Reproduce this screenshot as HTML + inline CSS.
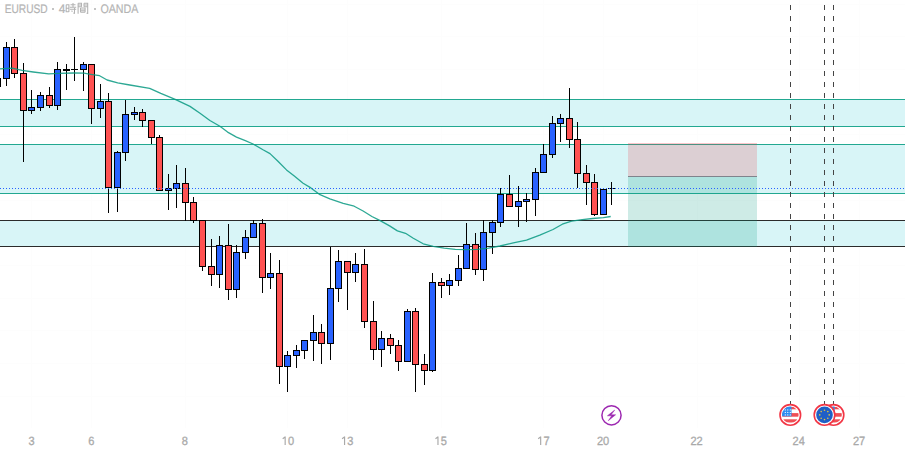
<!DOCTYPE html>
<html><head><meta charset="utf-8"><style>
html,body{margin:0;padding:0;background:#fff;width:905px;height:452px;overflow:hidden;}
body{position:relative;font-family:"Liberation Sans",sans-serif;}
</style></head><body>
<svg width="905" height="452" viewBox="0 0 905 452" shape-rendering="crispEdges" style="position:absolute;left:0;top:0"><rect x="31" y="0" width="1" height="428" fill="#fdfdfd"/>
<rect x="91" y="0" width="1" height="428" fill="#fdfdfd"/>
<rect x="185" y="0" width="1" height="428" fill="#fdfdfd"/>
<rect x="287" y="0" width="1" height="428" fill="#fdfdfd"/>
<rect x="347" y="0" width="1" height="428" fill="#fdfdfd"/>
<rect x="441" y="0" width="1" height="428" fill="#fdfdfd"/>
<rect x="543" y="0" width="1" height="428" fill="#fdfdfd"/>
<rect x="603" y="0" width="1" height="428" fill="#fdfdfd"/>
<rect x="697" y="0" width="1" height="428" fill="#fdfdfd"/>
<rect x="799" y="0" width="1" height="428" fill="#fdfdfd"/>
<rect x="859" y="0" width="1" height="428" fill="#fdfdfd"/>
<rect x="0" y="4" width="905" height="1" fill="#fdfdfd"/>
<rect x="0" y="36" width="905" height="1" fill="#fdfdfd"/>
<rect x="0" y="69" width="905" height="1" fill="#fdfdfd"/>
<rect x="0" y="102" width="905" height="1" fill="#fdfdfd"/>
<rect x="0" y="134" width="905" height="1" fill="#fdfdfd"/>
<rect x="0" y="167" width="905" height="1" fill="#fdfdfd"/>
<rect x="0" y="200" width="905" height="1" fill="#fdfdfd"/>
<rect x="0" y="232" width="905" height="1" fill="#fdfdfd"/>
<rect x="0" y="265" width="905" height="1" fill="#fdfdfd"/>
<rect x="0" y="298" width="905" height="1" fill="#fdfdfd"/>
<rect x="0" y="330" width="905" height="1" fill="#fdfdfd"/>
<rect x="0" y="363" width="905" height="1" fill="#fdfdfd"/>
<rect x="0" y="396" width="905" height="1" fill="#fdfdfd"/>
<rect x="0" y="100" width="905" height="26" fill="#d8f5f7"/>
<rect x="0" y="145" width="905" height="48" fill="#d8f5f7"/>
<rect x="0" y="221" width="905" height="25" fill="#d8f5f7"/>
<rect x="0" y="99" width="905" height="1" fill="#22a891"/>
<rect x="0" y="126" width="905" height="1" fill="#22a891"/>
<rect x="0" y="144" width="905" height="1" fill="#22a891"/>
<rect x="0" y="193" width="905" height="1" fill="#22a891"/>
<rect x="0" y="220" width="905" height="1" fill="#2b2b2b"/>
<rect x="0" y="246" width="905" height="1" fill="#2b2b2b"/>
<rect x="628" y="144" width="129" height="32" fill="rgb(242,54,69)" fill-opacity="0.2"/>
<rect x="628" y="143" width="129" height="1" fill="#fcc6cb"/>
<rect x="628" y="177" width="129" height="70" fill="rgb(8,153,129)" fill-opacity="0.2"/>
<rect x="628" y="176" width="129" height="1" fill="#80838c"/>
<line x1="790.5" y1="0" x2="790.5" y2="404" stroke="#444" stroke-width="1.3" stroke-dasharray="5 6" stroke-dashoffset="6"/>
<line x1="824.5" y1="0" x2="824.5" y2="404" stroke="#444" stroke-width="1.3" stroke-dasharray="5 6" stroke-dashoffset="6"/>
<line x1="833.5" y1="0" x2="833.5" y2="404" stroke="#444" stroke-width="1.3" stroke-dasharray="5 6" stroke-dashoffset="6"/>
<rect x="-3" y="78" width="1" height="9" fill="#000"/>
<rect x="-6" y="78" width="7" height="9" fill="#000"/>
<rect x="-5" y="79" width="5" height="7" fill="#2962ff"/>
<rect x="6" y="42" width="1" height="44" fill="#000"/>
<rect x="3" y="47" width="7" height="32" fill="#000"/>
<rect x="4" y="48" width="5" height="30" fill="#2962ff"/>
<rect x="14" y="39" width="1" height="39" fill="#000"/>
<rect x="11" y="47" width="7" height="27" fill="#000"/>
<rect x="12" y="48" width="5" height="25" fill="#ff5252"/>
<rect x="23" y="63" width="1" height="99" fill="#000"/>
<rect x="20" y="73" width="7" height="38" fill="#000"/>
<rect x="21" y="74" width="5" height="36" fill="#ff5252"/>
<rect x="31" y="90" width="1" height="24" fill="#000"/>
<rect x="28" y="107" width="7" height="4" fill="#000"/>
<rect x="29" y="108" width="5" height="2" fill="#2962ff"/>
<rect x="40" y="92" width="1" height="19" fill="#000"/>
<rect x="37" y="95" width="7" height="13" fill="#000"/>
<rect x="38" y="96" width="5" height="11" fill="#2962ff"/>
<rect x="49" y="87" width="1" height="21" fill="#000"/>
<rect x="46" y="95" width="7" height="11" fill="#000"/>
<rect x="47" y="96" width="5" height="9" fill="#ff5252"/>
<rect x="57" y="62" width="1" height="48" fill="#000"/>
<rect x="54" y="69" width="7" height="37" fill="#000"/>
<rect x="55" y="70" width="5" height="35" fill="#2962ff"/>
<rect x="66" y="64" width="1" height="26" fill="#000"/>
<rect x="63" y="69" width="7" height="2" fill="#000"/>
<rect x="74" y="37" width="1" height="44" fill="#000"/>
<rect x="71" y="69" width="7" height="1" fill="#000"/>
<rect x="83" y="62" width="1" height="29" fill="#000"/>
<rect x="80" y="64" width="7" height="6" fill="#000"/>
<rect x="81" y="65" width="5" height="4" fill="#2962ff"/>
<rect x="91" y="64" width="1" height="60" fill="#000"/>
<rect x="88" y="64" width="7" height="45" fill="#000"/>
<rect x="89" y="65" width="5" height="43" fill="#ff5252"/>
<rect x="100" y="84" width="1" height="34" fill="#000"/>
<rect x="97" y="101" width="7" height="8" fill="#000"/>
<rect x="98" y="102" width="5" height="6" fill="#2962ff"/>
<rect x="108" y="93" width="1" height="120" fill="#000"/>
<rect x="105" y="101" width="7" height="87" fill="#000"/>
<rect x="106" y="102" width="5" height="85" fill="#ff5252"/>
<rect x="117" y="151" width="1" height="61" fill="#000"/>
<rect x="114" y="152" width="7" height="36" fill="#000"/>
<rect x="115" y="153" width="5" height="34" fill="#2962ff"/>
<rect x="125" y="100" width="1" height="61" fill="#000"/>
<rect x="122" y="114" width="7" height="39" fill="#000"/>
<rect x="123" y="115" width="5" height="37" fill="#2962ff"/>
<rect x="134" y="107" width="1" height="13" fill="#000"/>
<rect x="131" y="112" width="7" height="3" fill="#000"/>
<rect x="132" y="113" width="5" height="1" fill="#2962ff"/>
<rect x="142" y="109" width="1" height="18" fill="#000"/>
<rect x="139" y="112" width="7" height="9" fill="#000"/>
<rect x="140" y="113" width="5" height="7" fill="#ff5252"/>
<rect x="151" y="120" width="1" height="24" fill="#000"/>
<rect x="148" y="120" width="7" height="18" fill="#000"/>
<rect x="149" y="121" width="5" height="16" fill="#ff5252"/>
<rect x="159" y="135" width="1" height="56" fill="#000"/>
<rect x="156" y="137" width="7" height="54" fill="#000"/>
<rect x="157" y="138" width="5" height="52" fill="#ff5252"/>
<rect x="168" y="174" width="1" height="36" fill="#000"/>
<rect x="165" y="188" width="7" height="3" fill="#000"/>
<rect x="166" y="189" width="5" height="1" fill="#2962ff"/>
<rect x="176" y="165" width="1" height="43" fill="#000"/>
<rect x="173" y="183" width="7" height="6" fill="#000"/>
<rect x="174" y="184" width="5" height="4" fill="#2962ff"/>
<rect x="185" y="168" width="1" height="53" fill="#000"/>
<rect x="182" y="183" width="7" height="20" fill="#000"/>
<rect x="183" y="184" width="5" height="18" fill="#ff5252"/>
<rect x="193" y="197" width="1" height="26" fill="#000"/>
<rect x="190" y="202" width="7" height="19" fill="#000"/>
<rect x="191" y="203" width="5" height="17" fill="#ff5252"/>
<rect x="202" y="220" width="1" height="51" fill="#000"/>
<rect x="199" y="220" width="7" height="47" fill="#000"/>
<rect x="200" y="221" width="5" height="45" fill="#ff5252"/>
<rect x="211" y="239" width="1" height="47" fill="#000"/>
<rect x="208" y="266" width="7" height="9" fill="#000"/>
<rect x="209" y="267" width="5" height="7" fill="#ff5252"/>
<rect x="219" y="236" width="1" height="52" fill="#000"/>
<rect x="216" y="245" width="7" height="30" fill="#000"/>
<rect x="217" y="246" width="5" height="28" fill="#2962ff"/>
<rect x="228" y="224" width="1" height="76" fill="#000"/>
<rect x="225" y="245" width="7" height="45" fill="#000"/>
<rect x="226" y="246" width="5" height="43" fill="#ff5252"/>
<rect x="236" y="245" width="1" height="53" fill="#000"/>
<rect x="233" y="252" width="7" height="38" fill="#000"/>
<rect x="234" y="253" width="5" height="36" fill="#2962ff"/>
<rect x="245" y="230" width="1" height="29" fill="#000"/>
<rect x="242" y="237" width="7" height="16" fill="#000"/>
<rect x="243" y="238" width="5" height="14" fill="#2962ff"/>
<rect x="253" y="220" width="1" height="18" fill="#000"/>
<rect x="250" y="223" width="7" height="15" fill="#000"/>
<rect x="251" y="224" width="5" height="13" fill="#2962ff"/>
<rect x="262" y="219" width="1" height="74" fill="#000"/>
<rect x="259" y="223" width="7" height="55" fill="#000"/>
<rect x="260" y="224" width="5" height="53" fill="#ff5252"/>
<rect x="270" y="253" width="1" height="36" fill="#000"/>
<rect x="267" y="273" width="7" height="5" fill="#000"/>
<rect x="268" y="274" width="5" height="3" fill="#2962ff"/>
<rect x="279" y="260" width="1" height="124" fill="#000"/>
<rect x="276" y="273" width="7" height="94" fill="#000"/>
<rect x="277" y="274" width="5" height="92" fill="#ff5252"/>
<rect x="287" y="351" width="1" height="41" fill="#000"/>
<rect x="284" y="355" width="7" height="12" fill="#000"/>
<rect x="285" y="356" width="5" height="10" fill="#2962ff"/>
<rect x="296" y="345" width="1" height="23" fill="#000"/>
<rect x="293" y="350" width="7" height="6" fill="#000"/>
<rect x="294" y="351" width="5" height="4" fill="#2962ff"/>
<rect x="304" y="340" width="1" height="19" fill="#000"/>
<rect x="301" y="340" width="7" height="11" fill="#000"/>
<rect x="302" y="341" width="5" height="9" fill="#2962ff"/>
<rect x="313" y="315" width="1" height="46" fill="#000"/>
<rect x="310" y="332" width="7" height="9" fill="#000"/>
<rect x="311" y="333" width="5" height="7" fill="#2962ff"/>
<rect x="321" y="324" width="1" height="40" fill="#000"/>
<rect x="318" y="332" width="7" height="12" fill="#000"/>
<rect x="319" y="333" width="5" height="10" fill="#ff5252"/>
<rect x="330" y="247" width="1" height="113" fill="#000"/>
<rect x="327" y="288" width="7" height="56" fill="#000"/>
<rect x="328" y="289" width="5" height="54" fill="#2962ff"/>
<rect x="338" y="250" width="1" height="52" fill="#000"/>
<rect x="335" y="261" width="7" height="28" fill="#000"/>
<rect x="336" y="262" width="5" height="26" fill="#2962ff"/>
<rect x="347" y="261" width="1" height="49" fill="#000"/>
<rect x="344" y="261" width="7" height="12" fill="#000"/>
<rect x="345" y="262" width="5" height="10" fill="#ff5252"/>
<rect x="355" y="253" width="1" height="29" fill="#000"/>
<rect x="352" y="264" width="7" height="9" fill="#000"/>
<rect x="353" y="265" width="5" height="7" fill="#2962ff"/>
<rect x="364" y="249" width="1" height="79" fill="#000"/>
<rect x="361" y="264" width="7" height="58" fill="#000"/>
<rect x="362" y="265" width="5" height="56" fill="#ff5252"/>
<rect x="373" y="301" width="1" height="59" fill="#000"/>
<rect x="370" y="321" width="7" height="29" fill="#000"/>
<rect x="371" y="322" width="5" height="27" fill="#ff5252"/>
<rect x="381" y="331" width="1" height="36" fill="#000"/>
<rect x="378" y="338" width="7" height="12" fill="#000"/>
<rect x="379" y="339" width="5" height="10" fill="#2962ff"/>
<rect x="390" y="334" width="1" height="20" fill="#000"/>
<rect x="387" y="338" width="7" height="8" fill="#000"/>
<rect x="388" y="339" width="5" height="6" fill="#ff5252"/>
<rect x="398" y="340" width="1" height="31" fill="#000"/>
<rect x="395" y="345" width="7" height="17" fill="#000"/>
<rect x="396" y="346" width="5" height="15" fill="#ff5252"/>
<rect x="407" y="309" width="1" height="53" fill="#000"/>
<rect x="404" y="311" width="7" height="51" fill="#000"/>
<rect x="405" y="312" width="5" height="49" fill="#2962ff"/>
<rect x="415" y="308" width="1" height="84" fill="#000"/>
<rect x="412" y="311" width="7" height="54" fill="#000"/>
<rect x="413" y="312" width="5" height="52" fill="#ff5252"/>
<rect x="424" y="354" width="1" height="31" fill="#000"/>
<rect x="421" y="364" width="7" height="7" fill="#000"/>
<rect x="422" y="365" width="5" height="5" fill="#ff5252"/>
<rect x="432" y="273" width="1" height="99" fill="#000"/>
<rect x="429" y="282" width="7" height="89" fill="#000"/>
<rect x="430" y="283" width="5" height="87" fill="#2962ff"/>
<rect x="441" y="278" width="1" height="20" fill="#000"/>
<rect x="438" y="282" width="7" height="4" fill="#000"/>
<rect x="439" y="283" width="5" height="2" fill="#ff5252"/>
<rect x="449" y="274" width="1" height="21" fill="#000"/>
<rect x="446" y="280" width="7" height="6" fill="#000"/>
<rect x="447" y="281" width="5" height="4" fill="#2962ff"/>
<rect x="458" y="255" width="1" height="31" fill="#000"/>
<rect x="455" y="268" width="7" height="13" fill="#000"/>
<rect x="456" y="269" width="5" height="11" fill="#2962ff"/>
<rect x="466" y="223" width="1" height="46" fill="#000"/>
<rect x="463" y="244" width="7" height="25" fill="#000"/>
<rect x="464" y="245" width="5" height="23" fill="#2962ff"/>
<rect x="475" y="233" width="1" height="42" fill="#000"/>
<rect x="472" y="244" width="7" height="26" fill="#000"/>
<rect x="473" y="245" width="5" height="24" fill="#ff5252"/>
<rect x="483" y="220" width="1" height="61" fill="#000"/>
<rect x="480" y="232" width="7" height="38" fill="#000"/>
<rect x="481" y="233" width="5" height="36" fill="#2962ff"/>
<rect x="492" y="220" width="1" height="34" fill="#000"/>
<rect x="489" y="222" width="7" height="11" fill="#000"/>
<rect x="490" y="223" width="5" height="9" fill="#2962ff"/>
<rect x="500" y="188" width="1" height="39" fill="#000"/>
<rect x="497" y="194" width="7" height="29" fill="#000"/>
<rect x="498" y="195" width="5" height="27" fill="#2962ff"/>
<rect x="509" y="175" width="1" height="32" fill="#000"/>
<rect x="506" y="194" width="7" height="13" fill="#000"/>
<rect x="507" y="195" width="5" height="11" fill="#ff5252"/>
<rect x="518" y="186" width="1" height="41" fill="#000"/>
<rect x="515" y="201" width="7" height="6" fill="#000"/>
<rect x="516" y="202" width="5" height="4" fill="#2962ff"/>
<rect x="526" y="193" width="1" height="29" fill="#000"/>
<rect x="523" y="199" width="7" height="3" fill="#000"/>
<rect x="524" y="200" width="5" height="1" fill="#2962ff"/>
<rect x="535" y="168" width="1" height="48" fill="#000"/>
<rect x="532" y="172" width="7" height="28" fill="#000"/>
<rect x="533" y="173" width="5" height="26" fill="#2962ff"/>
<rect x="543" y="144" width="1" height="29" fill="#000"/>
<rect x="540" y="154" width="7" height="19" fill="#000"/>
<rect x="541" y="155" width="5" height="17" fill="#2962ff"/>
<rect x="552" y="116" width="1" height="42" fill="#000"/>
<rect x="549" y="123" width="7" height="32" fill="#000"/>
<rect x="550" y="124" width="5" height="30" fill="#2962ff"/>
<rect x="560" y="114" width="1" height="28" fill="#000"/>
<rect x="557" y="118" width="7" height="6" fill="#000"/>
<rect x="558" y="119" width="5" height="4" fill="#2962ff"/>
<rect x="569" y="88" width="1" height="60" fill="#000"/>
<rect x="566" y="118" width="7" height="22" fill="#000"/>
<rect x="567" y="119" width="5" height="20" fill="#ff5252"/>
<rect x="577" y="122" width="1" height="66" fill="#000"/>
<rect x="574" y="139" width="7" height="35" fill="#000"/>
<rect x="575" y="140" width="5" height="33" fill="#ff5252"/>
<rect x="586" y="165" width="1" height="40" fill="#000"/>
<rect x="583" y="173" width="7" height="10" fill="#000"/>
<rect x="584" y="174" width="5" height="8" fill="#ff5252"/>
<rect x="594" y="174" width="1" height="42" fill="#000"/>
<rect x="591" y="182" width="7" height="33" fill="#000"/>
<rect x="592" y="183" width="5" height="31" fill="#ff5252"/>
<rect x="603" y="189" width="1" height="26" fill="#000"/>
<rect x="600" y="189" width="7" height="26" fill="#000"/>
<rect x="601" y="190" width="5" height="24" fill="#2962ff"/>
<rect x="611" y="182" width="1" height="23" fill="#000"/>
<rect x="608" y="188" width="7" height="1" fill="#000"/>
<polyline shape-rendering="geometricPrecision" points="0,68.8 8,68.4 12.2,68.2 22.1,70.4 33.2,72 48.7,73.9 58.6,73.3 74.3,73 84,73.2 90.7,74.3 99.6,75.7 107.1,80 117.7,82.8 129.8,85 149.7,88.3 160.8,93.3 175.2,99.4 190,106.4 200,113.3 209.9,120.5 219.9,126.3 227.6,132.1 236.5,137.1 245.3,140.7 253.1,144 263,149.8 270,153.6 277.7,161 286.5,169.9 294.3,176 303.1,183.2 310.9,187.9 320,194.7 329.9,198.8 343.2,203.3 354.2,206.2 363.1,211 371.9,216.5 379.7,220.4 389.6,225.9 397.4,230.9 405.5,233.3 413.3,238.3 423.2,243.8 433.2,246.3 444.2,248.2 455.3,249.3 466.4,249.6 477.4,249.3 488.5,248.2 500,246 513.3,242.8 526.5,240.1 539.8,235.2 553,229.5 562.3,224.2 571.6,221.2 582.2,219.6 592.8,218.5 603.4,217.6 610.7,216.5" fill="none" stroke="#089981" stroke-opacity="0.85" stroke-width="1.3" stroke-linejoin="round"/>
<line x1="0" y1="188.5" x2="905" y2="188.5" stroke="#2962ff" stroke-width="1" stroke-dasharray="1 2"/>
<g shape-rendering="geometricPrecision" transform="translate(611.5,415.3)"><circle r="9.6" fill="#fff" stroke="#9c27b0" stroke-width="1.5"/>
<path d="M3.2,-5.2 L-4.1,0.5 L0.2,0.5 L-3.2,5.4 L4.1,-0.5 L-0.4,-0.5 Z" fill="#9c27b0" stroke="#9c27b0" stroke-width="0.5" stroke-linejoin="round"/></g>
<g shape-rendering="geometricPrecision" transform="translate(833.5,414.9)"><circle r="10.3" fill="#fff" stroke="#f23645" stroke-width="1.6"/>
<clipPath id="c833.5"><circle r="8.3"/></clipPath><g clip-path="url(#c833.5)">
<rect x="-9" y="-9" width="18" height="18" fill="#fff"/>
<rect x="-9" y="-8.2" width="18" height="2.6" fill="#f04e55"/>
<rect x="-9" y="-1.8" width="18" height="3.6" fill="#f04e55"/>
<rect x="-9" y="4.4" width="18" height="3.2" fill="#f04e55"/>
<rect x="-9" y="-9" width="10.2" height="10.4" fill="#2d8cf0"/>
<g fill="#fff"><circle cx="-5" cy="-5" r=".6"/><circle cx="-2.5" cy="-5" r=".6"/><circle cx="0" cy="-5" r=".6"/><circle cx="-5" cy="-2.5" r=".6"/><circle cx="-2.5" cy="-2.5" r=".6"/><circle cx="0" cy="-2.5" r=".6"/><circle cx="-5" cy="0" r=".6"/><circle cx="-2.5" cy="0" r=".6"/><circle cx="0" cy="0" r=".6"/></g>
</g></g>
<g shape-rendering="geometricPrecision" transform="translate(824.5,414.9)"><circle r="10.3" fill="#fff" stroke="#f23645" stroke-width="1.6"/>
<circle r="8.3" fill="#1f5fc6"/><g fill="#e8c53a"><circle cx="0.00" cy="-4.70" r=".8"/><circle cx="3.32" cy="-3.32" r=".8"/><circle cx="4.70" cy="-0.00" r=".8"/><circle cx="3.32" cy="3.32" r=".8"/><circle cx="0.00" cy="4.70" r=".8"/><circle cx="-3.32" cy="3.32" r=".8"/><circle cx="-4.70" cy="0.00" r=".8"/><circle cx="-3.32" cy="-3.32" r=".8"/></g></g>
<g shape-rendering="geometricPrecision" transform="translate(790.3,414.9)"><circle r="10.3" fill="#fff" stroke="#f23645" stroke-width="1.6"/>
<clipPath id="c790.3"><circle r="8.3"/></clipPath><g clip-path="url(#c790.3)">
<rect x="-9" y="-9" width="18" height="18" fill="#fff"/>
<rect x="-9" y="-8.2" width="18" height="2.6" fill="#f04e55"/>
<rect x="-9" y="-1.8" width="18" height="3.6" fill="#f04e55"/>
<rect x="-9" y="4.4" width="18" height="3.2" fill="#f04e55"/>
<rect x="-9" y="-9" width="10.2" height="10.4" fill="#2d8cf0"/>
<g fill="#fff"><circle cx="-5" cy="-5" r=".6"/><circle cx="-2.5" cy="-5" r=".6"/><circle cx="0" cy="-5" r=".6"/><circle cx="-5" cy="-2.5" r=".6"/><circle cx="-2.5" cy="-2.5" r=".6"/><circle cx="0" cy="-2.5" r=".6"/><circle cx="-5" cy="0" r=".6"/><circle cx="-2.5" cy="0" r=".6"/><circle cx="0" cy="0" r=".6"/></g>
</g></g></svg>
<svg width="905" height="452" style="position:absolute;left:0;top:0" text-rendering="geometricPrecision"><g font-family="Liberation Sans" font-size="12" fill="#a9a9a9" stroke="#a9a9a9" stroke-width="0.3"><g transform="translate(31.5,445.0) scale(0.92,1)"><text x="-3.34" y="0">3</text></g><g transform="translate(91.3,445.0) scale(0.92,1)"><text x="-3.34" y="0">6</text></g><g transform="translate(184.9,445.0) scale(0.92,1)"><text x="-3.34" y="0">8</text></g><g transform="translate(287.9,445.0) scale(0.92,1)"><path d="M-2.97,-8.4 V0 M-2.77,-8.3 L-5.67,-6.2" fill="none" stroke="#a9a9a9" stroke-width="1.25"/><text x="0.00" y="0">0</text></g><g transform="translate(347.3,445.0) scale(0.92,1)"><path d="M-2.97,-8.4 V0 M-2.77,-8.3 L-5.67,-6.2" fill="none" stroke="#a9a9a9" stroke-width="1.25"/><text x="0.00" y="0">3</text></g><g transform="translate(440.7,445.0) scale(0.92,1)"><path d="M-2.97,-8.4 V0 M-2.77,-8.3 L-5.67,-6.2" fill="none" stroke="#a9a9a9" stroke-width="1.25"/><text x="0.00" y="0">5</text></g><g transform="translate(543.4,445.0) scale(0.92,1)"><path d="M-2.97,-8.4 V0 M-2.77,-8.3 L-5.67,-6.2" fill="none" stroke="#a9a9a9" stroke-width="1.25"/><text x="0.00" y="0">7</text></g><g transform="translate(603,445.0) scale(0.92,1)"><text x="-6.67" y="0">2</text><text x="0.00" y="0">0</text></g><g transform="translate(696.6,445.0) scale(0.92,1)"><text x="-6.67" y="0">2</text><text x="0.00" y="0">2</text></g><g transform="translate(798.7,445.0) scale(0.92,1)"><text x="-6.67" y="0">2</text><text x="0.00" y="0">4</text></g><g transform="translate(859,445.0) scale(0.92,1)"><text x="-6.67" y="0">2</text><text x="0.00" y="0">7</text></g></g></svg>
<svg width="150" height="18" style="position:absolute;left:0;top:0" shape-rendering="geometricPrecision" text-rendering="geometricPrecision">
<g font-family="Liberation Sans" font-size="12.4" fill="#b4b4b4" stroke="#b4b4b4" stroke-width="0.2">
<text transform="translate(4.7,13.0) scale(0.819,1)">EURUSD</text>
<text transform="translate(58.7,13.0) scale(0.97,1)">4</text>
<text transform="translate(100.4,13.0) scale(0.862,1)">OANDA</text>
</g>
<rect x="52" y="8" width="2" height="2" fill="#c4c4c4"/>
<rect x="94" y="8" width="2" height="2" fill="#c4c4c4"/>
</svg>
<svg width="24" height="12" viewBox="0 0 24 12" style="position:absolute;left:65px;top:1.6px" shape-rendering="geometricPrecision">
<g stroke="#b3b3b3" stroke-width="1.05" fill="none">
<path d="M1.2,2.8 V10.2 M1.2,2.8 H3.9 V10 M1.2,6.3 H3.9 M1.2,9.8 H3.9"/>
<path d="M5.5,2.8 H10.5 M8,1 V5.2 M4.8,5.2 H11.2 M4.8,7.3 H11.2 M9.5,6 V11.3 L8.3,11 M6.6,8.6 L7.4,9.8"/>
<path d="M13.1,1.3 V11.8 M13.1,1.3 H16.5 V4.8 M13.1,3 H16.5 M13.1,4.8 H16.5 M19,1.3 H22.7 V11.4 L21.6,11.2 M19,1.3 V4.8 M19,3 H22.7 M19,4.8 H22.7"/>
<path d="M15.5,6 H20.1 V10.3 M15.5,6 V10.3 M15.5,8.1 H20.1 M15.5,10.1 H20.1"/>
</g></svg>
</body></html>
